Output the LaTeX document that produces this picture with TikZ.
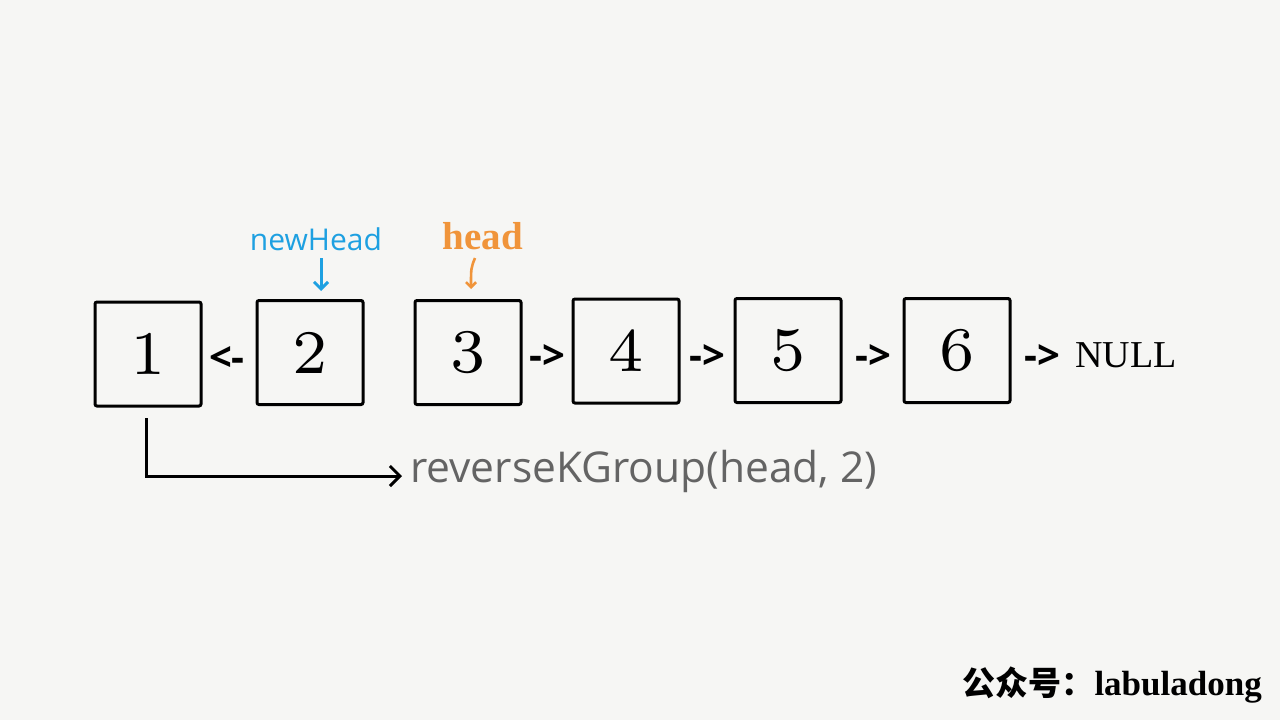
\documentclass[tikz,border=0pt]{standalone}
\usepackage{fontspec}
\usetikzlibrary{arrows.meta}
\newfontfamily\osans{Open Sans}
\newfontfamily\tserif{Liberation Serif}
\newfontfamily\cjk{Noto Sans CJK SC}
\newfontfamily\lmseven{lmroman7-regular.otf}
\definecolor{bg}{RGB}{246,246,244}
\definecolor{nhblue}{RGB}{30,160,225}
\definecolor{hdorange}{RGB}{240,148,58}
\definecolor{txtgray}{RGB}{100,100,100}
\tikzset{
  listbox/.style={draw=black, line width=3pt, rounded corners=2pt, minimum width=106pt, minimum height=104pt, inner sep=0pt, font=\lmseven\fontsize{62}{68}\selectfont},
  linklbl/.style={inner sep=0pt, font=\osans\bfseries\fontsize{40}{44}\selectfont},
  ptr/.style={line width=3pt, -{Straight Barb[length=10pt, width=20pt, line width=3pt]}},
}
\begin{document}
\begin{tikzpicture}[x=1pt,y=-1pt]
\fill[bg] (0,0) rectangle (1280,720);
\useasboundingbox (0,0) rectangle (1280,720);

\node[listbox] (n1) at (148,354) {1};
\node[listbox] (n2) at (310,352.5) {2};
\node[listbox] (n3) at (468,352.5) {3};
\node[listbox] (n4) at (626,351) {4};
\node[listbox] (n5) at (788,350.5) {5};
\node[listbox] (n6) at (957,350.5) {6};

\node[linklbl] (l12) at (227,359) {<-};
\node[linklbl] (l34) at (547,357) {->};
\node[linklbl] (l45) at (707,357) {->};
\node[linklbl] (l56) at (873,357) {->};
\node[linklbl, anchor=west] (l6n) at (1024,357) {->};
\node[anchor=west, inner sep=0pt, font=\tserif\fontsize{38}{42}\selectfont] (null) at (1075,355) {NULL};

\node[inner sep=0pt, text=nhblue, font=\osans\fontsize{30}{34}\selectfont] (nh) at (316,239) {newHead};
\node[inner sep=0pt, text=hdorange, font=\tserif\bfseries\fontsize{39}{42}\selectfont] (hd) at (483,236) {head};

\coordinate (nhs) at (321,258);
\coordinate (nhe) at (321,291);
\draw[draw=nhblue, line width=3pt, -{Straight Barb[length=7pt, width=14pt, line width=3pt]}] (nhs) -- (nhe);
\coordinate (hds) at (475,258);
\coordinate (hde) at (471,289);
\draw[draw=hdorange, line width=2.6pt, -{Straight Barb[length=5pt, width=10pt, line width=2.6pt]}] (hds) .. controls (471,268) .. (hde);

\node[anchor=west, inner sep=0pt, text=txtgray, font=\osans\fontsize{42.5}{46}\selectfont] (call) at (410,471) {reverseKGroup(head, 2)};
\coordinate (cs) at (146,418);
\coordinate (ce) at (402,476);
\draw[ptr] (cs) |- (ce);

\node[anchor=east, inner sep=0pt] (wm) at (1262,685) {{\cjk\bfseries\fontsize{33}{36}\selectfont 公众号：}{\tserif\bfseries\fontsize{35}{38}\selectfont labuladong}};
\end{tikzpicture}
\end{document}
